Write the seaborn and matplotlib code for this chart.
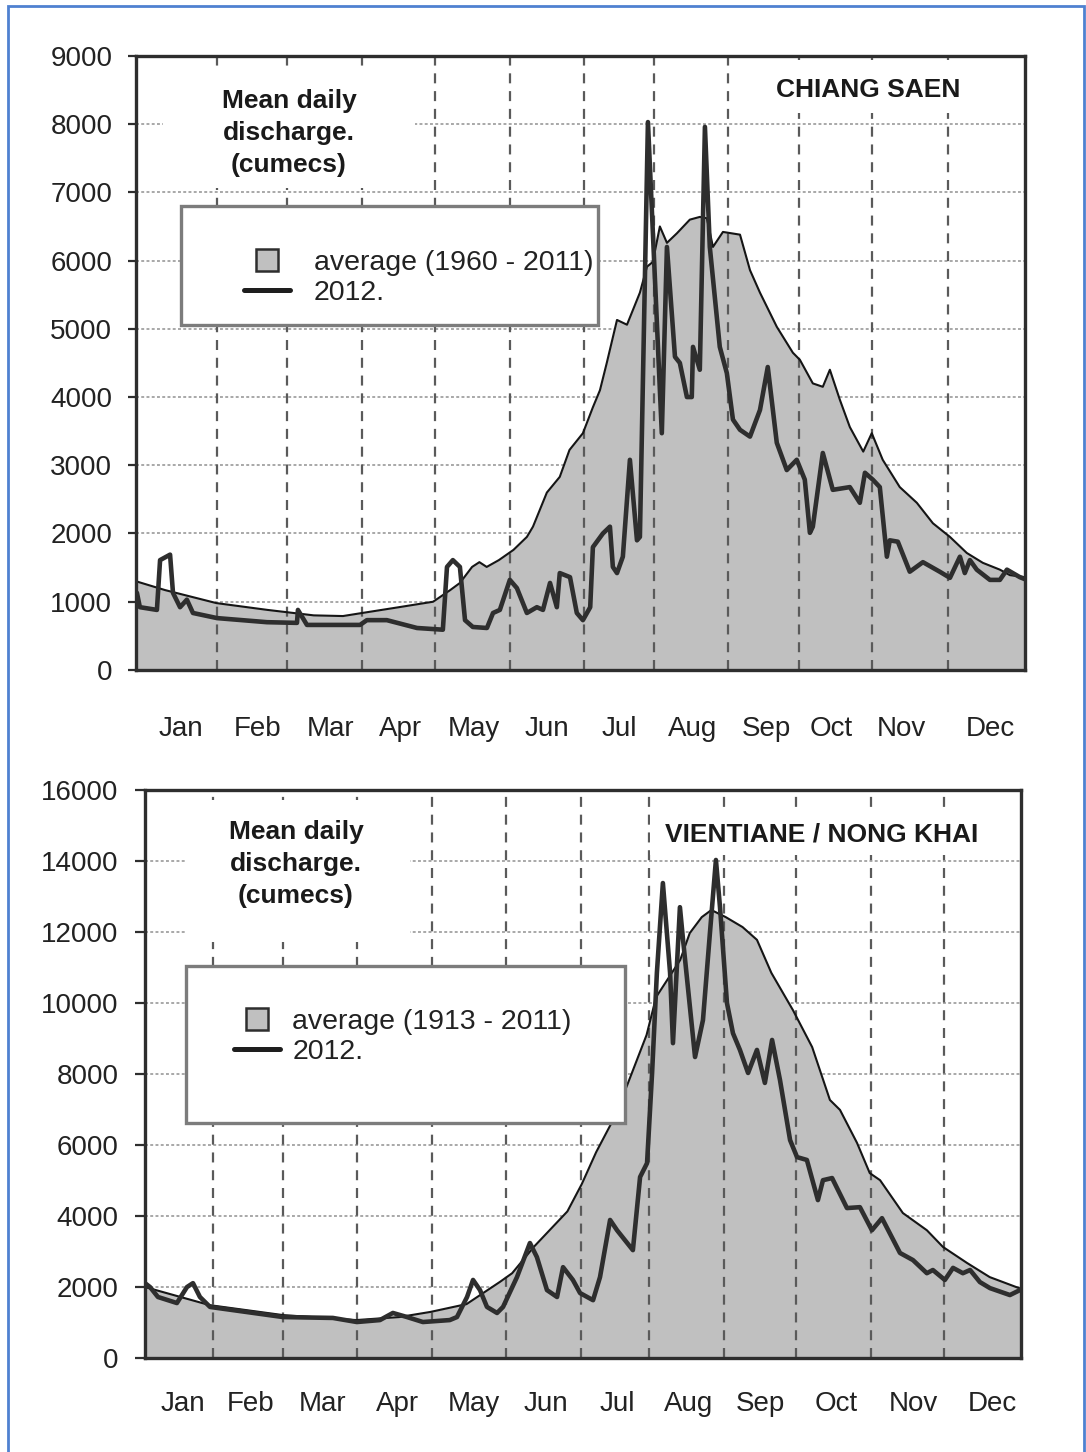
import matplotlib
matplotlib.use("Agg")
import matplotlib.pyplot as plt
from matplotlib.patches import Rectangle
from matplotlib.lines import Line2D
import numpy as np
import seaborn as sns

# ---------------------------------------------------------------- data
months = ["Jan", "Feb", "Mar", "Apr", "May", "Jun",
          "Jul", "Aug", "Sep", "Oct", "Nov", "Dec"]

# Chiang Saen: long-term average (1960-2011), day of year vs discharge
cs_avg_day = [0, 12, 33, 54, 73, 85, 92, 108, 122, 129, 133, 138, 141, 144,
              149, 155, 160.5, 163, 168.7, 174, 178, 183.5, 187.6, 190.5,
              193.3, 197.5, 201.6, 206.9, 209.8, 212.2, 215.1, 218, 222.1,
              227.4, 231.5, 234.4, 236.9, 241, 248, 252.1, 256.2, 263.1,
              269.7, 272.6, 277.9, 282, 284.9, 289, 293.1, 298.6, 302.1,
              306.6, 313.6, 320.6, 327.2, 334.2, 341.1, 347.7, 354.7, 358.8,
              365]
cs_avg_val = [1300, 1170, 980, 880, 800, 790, 830, 920, 1000, 1170, 1275,
              1510, 1580, 1510, 1610, 1760, 1950, 2100, 2600, 2830, 3225,
              3470, 3850, 4100, 4500, 5130, 5060, 5530, 5910, 5980, 6500,
              6260, 6400, 6600, 6640, 6620, 6200, 6420, 6380, 5860, 5530,
              5030, 4650, 4545, 4200, 4150, 4400, 3960, 3560, 3200, 3470,
              3080, 2680, 2450, 2150, 1950, 1715, 1570, 1470, 1390, 1360]

# Chiang Saen: 2012
cs_12_day = [0.4, 1.6, 8.6, 9.9, 14, 15.2, 18.1, 20.9, 23.4, 33.3, 53.8,
             66.1, 66.5, 70.2, 92, 94.8, 103, 115.4, 126, 127.7, 130.1, 133,
             135.1, 138.3, 144.1, 146.6, 149.4, 153.5, 156.4, 160.5, 164.6,
             167.1, 170, 172.8, 174, 178.2, 181, 183.5, 186.5, 187.6, 191.7,
             194.6, 195.8, 197.5, 199.9, 202.8, 205.7, 206.9, 210.2, 215.9,
             218, 221.3, 223.3, 226.2, 228.2, 228.7, 231.5, 233.6, 235.6,
             239.7, 242.6, 245.1, 248, 252.1, 256.2, 259.4, 263.1, 267.2,
             271.3, 274.6, 276.7, 277.9, 282, 286.1, 293.1, 297.2, 299.3,
             302.5, 305.4, 308.3, 309.5, 312.8, 317.7, 323.1, 330, 334.2,
             338.3, 340.3, 342.4, 345.2, 350.6, 354.7, 357.6, 362.9, 365]
cs_12_val = [1130, 920, 880, 1610, 1690, 1130, 920, 1030, 835, 760, 700,
             690, 880, 660, 660, 730, 730, 615, 590, 1510, 1610, 1510,
             730, 630, 615, 835, 880, 1320, 1200, 835, 920,
             880, 1275, 920, 1420, 1360, 835, 730, 920, 1800, 2000,
             2100, 1510, 1420, 1660, 3080, 1900, 1950, 8030, 3470,
             6200, 4590, 4500, 4000, 4000, 4735, 4400, 7960, 6200,
             4735, 4350, 3670, 3520, 3420, 3810, 4440, 3330, 2930,
             3080, 2790, 2010, 2100, 3180, 2640, 2680, 2450, 2890,
             2790, 2680, 1660, 1900, 1880, 1440, 1580, 1440, 1350,
             1660, 1420, 1610, 1470, 1320, 1320, 1470, 1360, 1330]

# Vientiane / Nong Khai: long-term average (1913-2011)
vt_avg_day = [0, 27, 57.5, 88, 106, 119, 134, 148, 153, 162, 176, 182, 188,
              195, 201, 209, 213, 223, 227, 232, 236, 242, 249, 255, 261,
              270, 278, 285.4, 289.6, 296.7, 302, 306.3, 315.8, 325.8,
              332.5, 342.5, 352, 365]
vt_avg_val = [2000, 1490, 1210, 1070, 1155, 1300, 1520, 2150, 2390, 3130,
              4130, 4900, 5800, 6700, 7700, 9100, 10170, 11210, 11970,
              12420, 12620, 12420, 12140, 11780, 10850, 9800, 8760, 7270,
              6990, 6060, 5210, 5010, 4085, 3600, 3130, 2680, 2280, 1950]

# Vientiane / Nong Khai: 2012
vt_12_day = [0, 2.1, 5.4, 13.3, 17.5, 20, 22.9, 27.1, 36.7, 57.5, 78.3,
             88.3, 97.9, 103.3, 109.2, 115.8, 127, 130, 134.2, 136.7, 139.6,
             142.5, 146.7, 149.2, 155, 160.4, 163.3, 167.5, 171.7, 174.2,
             178.3, 181.3, 186.7, 189.6, 193.8, 196.7, 203.3, 206.3, 209.2,
             211.3, 213.3, 215.8, 218.8, 220, 222.9, 224.2, 229.2, 232.5,
             235.4, 237.9, 239.6, 242.5, 245, 247.9, 251.3, 255, 258.3,
             261.3, 264.6, 268.8, 271.7, 275.8, 280.4, 282.5, 286.3, 292.5,
             297.9, 302.9, 307.1, 314.6, 320, 325.8, 328.3, 333.3, 336.7,
             340.8, 343.8, 347.9, 352.1, 360.4, 364.6]
vt_12_val = [2110, 2000, 1720, 1550, 2000, 2110, 1720, 1440, 1350, 1155,
             1130, 1015, 1070, 1270, 1155, 1015, 1070, 1155, 1720, 2200,
             1915, 1440, 1270, 1440, 2280, 3240, 2845, 1915, 1720, 2560,
             2200, 1830, 1630, 2280, 3890, 3600, 3040, 5100, 5490,
             8030, 10850, 13380, 10850, 8870, 12700, 11780, 8480, 9520,
             11970, 14030, 12700, 10000, 9150, 8680, 8030, 8680, 7750,
             8960, 7830, 6140, 5660, 5580, 4450, 5010, 5070, 4225,
             4250, 3600, 3940, 2960, 2760, 2390, 2480, 2200, 2540,
             2390, 2480, 2140, 1970, 1775, 1915]

# month boundaries (vertical dashed lines) and month label positions
cs_month_edges = [33.4, 62.1, 92.6, 122.7, 153.5, 184.1, 212.6, 243.1,
                  272.3, 302.0, 333.4]
cs_label_pos = [18.5, 50.1, 80.0, 108.8, 138.8, 168.7, 198.3, 228.7,
                259.0, 285.3, 314.4, 351.0]
vt_month_edges = [28.2, 57.4, 88.2, 119.5, 150.4, 181.7, 210.1, 241.3,
                  271.1, 302.4, 333.0]
vt_label_pos = [15.8, 44.2, 74.2, 105.4, 137.1, 167.1, 196.7, 226.3,
                256.3, 287.9, 320.0, 352.9]

cs_ymax, cs_ystep = 9000, 1000
vt_ymax, vt_ystep = 16000, 2000

note_text = "Mean daily\ndischarge.\n(cumecs)"

# ---------------------------------------------------------------- style
sns.set_theme(style="white")
plt.rcParams["font.family"] = ["Liberation Sans", "DejaVu Sans"]

FILL = "#c0c0c0"
DARK = "#2e2e2e"

fig = plt.figure(figsize=(10.86, 14.52), dpi=100)
fig.patch.set_facecolor("white")

ax1 = fig.add_axes([0.1252, 0.5386, 0.8186, 0.4229])
ax2 = fig.add_axes([0.1335, 0.0647, 0.8066, 0.3912])


def panel(ax, avg_day, avg_val, yr_day, yr_val, edges, label_pos, ymax, ystep,
          station, period, legend_box, legend_anchor, note_xy, note_box,
          title_xy, title_box, xpad, ypad, ticklen, handletextpad):
    ax.set_facecolor("white")
    ax.set_xlim(0, 365)
    ax.set_ylim(0, ymax)

    # horizontal dotted grid, beneath the filled area
    ax.set_yticks(np.arange(0, ymax + 1, ystep))
    ax.yaxis.grid(True, color="#a8a8a8", linestyle=(0, (1.5, 1.2)), lw=1.4)
    ax.xaxis.grid(False)
    ax.set_axisbelow(True)

    # long-term average as a filled area
    ax.fill_between(avg_day, avg_val, 0, color=FILL, lw=0, zorder=1)

    # month boundaries
    for e in edges:
        ax.axvline(e, color="#5a5a5a", lw=1.6, dashes=(4.5, 3.5), zorder=2)

    # white boxes behind the annotations
    for (x0, y0, x1, y1) in (note_box, title_box):
        ax.add_patch(Rectangle((x0, y0), x1 - x0, y1 - y0,
                               transform=ax.transAxes, facecolor="white",
                               edgecolor="none", zorder=2.5))

    sns.lineplot(x=avg_day, y=avg_val, ax=ax, color="#151515", lw=1.5,
                 estimator=None, sort=False, zorder=4,
                 solid_joinstyle="round")
    sns.lineplot(x=yr_day, y=yr_val, ax=ax, color=DARK, lw=3.3,
                 estimator=None, sort=False, zorder=5,
                 solid_joinstyle="round", solid_capstyle="round")
    ax.set_xlabel("")
    ax.set_ylabel("")

    # month labels, no tick marks
    ax.set_xticks(label_pos)
    ax.set_xticklabels(months)
    ax.tick_params(axis="x", length=0, pad=xpad, labelsize=20,
                   labelcolor="#222222")
    ax.tick_params(axis="y", left=True, length=ticklen, width=1.6,
                   color=DARK, pad=ypad, labelsize=20, labelcolor="#222222")
    ax.set_yticklabels([str(int(v)) for v in ax.get_yticks()])

    for s in ax.spines.values():
        s.set_visible(True)
        s.set_color(DARK)
        s.set_linewidth(2.4)
        s.set_zorder(6)

    # text annotations
    ax.text(note_xy[0], note_xy[1], note_text, transform=ax.transAxes,
            ha="center", va="center", fontsize=19, fontweight="bold",
            linespacing=1.42, color="#1a1a1a", zorder=7)
    ax.text(title_xy[0], title_xy[1], station, transform=ax.transAxes,
            ha="center", va="center", fontsize=19, fontweight="bold",
            color="#1a1a1a", zorder=7)

    # legend frame and entries
    x0, y0, x1, y1 = legend_box
    ax.add_patch(Rectangle((x0, y0), x1 - x0, y1 - y0, transform=ax.transAxes,
                           facecolor="white", edgecolor="#7c7c7c", lw=2.4,
                           zorder=8))
    handles = [
        Line2D([], [], marker="s", markersize=16.5, markerfacecolor=FILL,
               markeredgecolor=DARK, markeredgewidth=1.8, linestyle="none"),
        Line2D([], [], color="#1e1e1e", lw=3.6),
    ]
    leg = ax.legend(handles, [f"average ({period})", "2012."],
                    loc="upper left", bbox_to_anchor=legend_anchor,
                    frameon=False, fontsize=20.5, handlelength=1.6,
                    handletextpad=handletextpad, labelspacing=0.12,
                    borderpad=0, borderaxespad=0)
    for t in leg.get_texts():
        t.set_color("#222222")
    leg.set_zorder(9)


panel(ax1, cs_avg_day, cs_avg_val, cs_12_day, cs_12_val, cs_month_edges,
      cs_label_pos, cs_ymax, cs_ystep, "CHIANG SAEN", "1960 - 2011",
      legend_box=(0.0506, 0.5619, 0.5197, 0.7557),
      legend_anchor=(0.1215, 0.6836),
      note_xy=(0.1721, 0.8746), note_box=(0.0304, 0.785, 0.3138, 0.974),
      title_xy=(0.8234, 0.9446), title_box=(0.691, 0.907, 0.972, 0.9935),
      xpad=33, ypad=11, ticklen=6, handletextpad=0.85)

panel(ax2, vt_avg_day, vt_avg_val, vt_12_day, vt_12_val, vt_month_edges,
      vt_label_pos, vt_ymax, vt_ystep, "VIENTIANE / NONG KHAI", "1913 - 2011",
      legend_box=(0.0468, 0.4137, 0.5479, 0.6901),
      legend_anchor=(0.1016, 0.6142),
      note_xy=(0.1724, 0.8697), note_box=(0.0457, 0.7324, 0.3025, 0.9824),
      title_xy=(0.7728, 0.9225), title_box=(0.5765, 0.8856, 0.976, 0.9613),
      xpad=24, ypad=12, ticklen=7, handletextpad=0.45)

# thin blue frame around the page
fig.add_artist(Rectangle((8 / 1086, -0.01), (1084 - 8) / 1086, 1.01 - 6 / 1452,
                         transform=fig.transFigure, fill=False,
                         edgecolor="#4f81d0", lw=2))

fig.savefig("out.png", dpi=100, facecolor="white")
